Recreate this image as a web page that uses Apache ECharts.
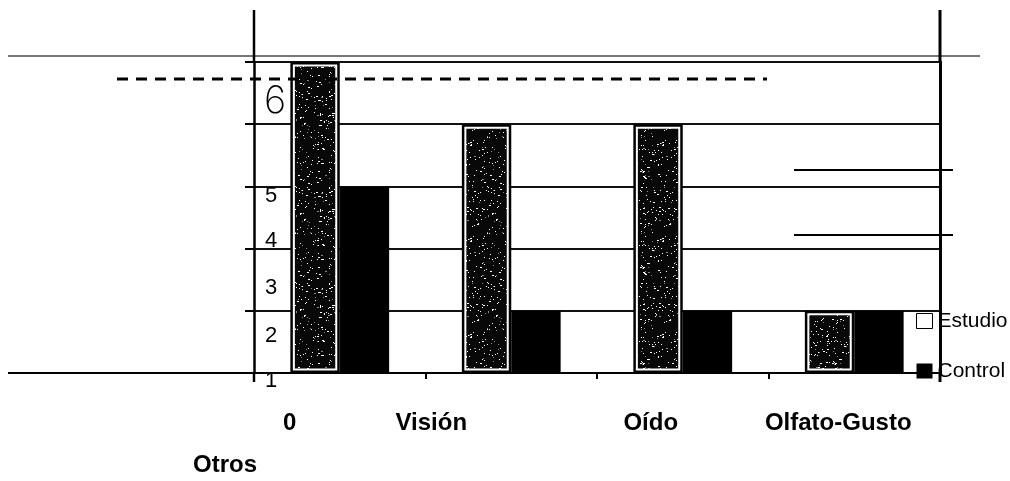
<!DOCTYPE html>
<html>
<head>
<meta charset="utf-8">
<title>Estudio / Control</title>
<script src="https://cdn.jsdelivr.net/npm/echarts@6.0.0/dist/echarts.min.js"></script>
<style>
  html, body { margin: 0; padding: 0; background: #fff; }
  #chart { width: 1010px; height: 481px; }
</style>
</head>
<body>
<div id="chart"></div>
<script>
// ---- data ----
const categories = ['0', 'Visión', 'Oído', 'Olfato-Gusto'];
const estudio = [6, 5, 5, 2];
const control = [4, 2, 2, 2];
const yTickLabels = ['1', '2', '3', '4', '5', '6'];
const axisName = 'Otros';

// ---- layout / style settings ----
const Y_MIN = 1, Y_TOP = 6;
// a hair above the top tick so the top label is treated as an ordinary one
const Y_MAX = Y_TOP + 0.0001;
const FONT = "'Liberation Sans', Arial, sans-serif";
// vertical shift (px) of each value label from its tick
const yLabelShift = [8, 25, 39, 55, 72, 40];
// horizontal shift (px, leftwards) of each category label from its band centre
const xLabelShift = [50, 80, 32, 16];
const BAR_FRAC = 0.288; // bar width as a fraction of the category band

// dark speckled fill for the "Estudio" bars (deterministic texture)
function speckleTile(size) {
  const c = document.createElement('canvas');
  c.width = c.height = size;
  const g = c.getContext('2d');
  g.fillStyle = '#080808';
  g.fillRect(0, 0, size, size);
  let s = 48271;
  const next = () => (s = (s * 16807) % 2147483647) / 2147483647;
  for (let k = 0; k < size * size * 0.045; k++) {
    const x = Math.floor(next() * size), y = Math.floor(next() * size);
    g.fillStyle = next() < 0.75 ? '#ffffff' : '#8a8a8a';
    g.fillRect(x, y, next() < 0.2 ? 2 : 1, 1);
  }
  return c;
}
const speckle = { image: speckleTile(96), repeat: 'repeat' };

function barRenderer(side) {
  return function (params, api) {
    const cat = api.value(0), val = api.value(1);
    const top = api.coord([cat, val]);
    const base = api.coord([cat, Y_MIN]);
    const w = api.size([1, 0])[0] * BAR_FRAC;
    const x = side === 'left' ? top[0] - w : top[0];
    const y = top[1], h = base[1] - top[1];
    if (side === 'right') {
      return { type: 'rect', shape: { x: x, y: y, width: w, height: h }, style: { fill: '#000' } };
    }
    return {
      type: 'group',
      children: [
        { type: 'rect', shape: { x: x, y: y, width: w, height: h }, style: { fill: '#000' } },
        { type: 'rect', shape: { x: x + 2.5, y: y + 2.5, width: w - 5, height: h - 5 }, style: { fill: '#fff' } },
        { type: 'rect', shape: { x: x + 4.5, y: y + 4.5, width: w - 9, height: h - 9 }, style: { fill: speckle } }
      ]
    };
  };
}

// rich styles for value labels
const yRich = {};
yTickLabels.forEach((t, i) => {
  const big = i === yTickLabels.length - 1;
  yRich['t' + i] = {
    fontFamily: big ? "Inter, 'DejaVu Sans', sans-serif" : FONT,
    fontWeight: big ? 200 : 'normal',
    fontSize: big ? 38 : 22,
    lineHeight: big ? 38 : 22,
    color: '#000',
    padding: [yLabelShift[i] * 2, 0, 0, big ? 0 : 1]
  };
});
// rich styles for category labels
const xRich = {};
categories.forEach((c, i) => {
  xRich['c' + i] = {
    fontFamily: FONT, fontWeight: 'bold', fontSize: 24, lineHeight: 24, color: '#000',
    padding: [0, xLabelShift[i] * 2, 0, 0]
  };
});

function yLabel(v) {
  const r = Math.round(v);
  if (Math.abs(v - r) > 1e-6) return '';
  const i = r - Y_MIN;
  return '{t' + i + '|' + yTickLabels[i] + '}';
}

const chart = echarts.init(document.getElementById('chart'), null, { renderer: 'canvas' });

const line = (x1, y1, x2, y2, lw, color, dash) => ({
  type: 'line', silent: true, z: 5,
  shape: { x1, y1, x2, y2 },
  style: { stroke: color || '#000', lineWidth: lw, lineDash: dash || null }
});

chart.setOption({
  backgroundColor: '#fff',
  animation: false,
  grid: { left: 254, right: 70, top: 62, bottom: 108, outerBoundsMode: 'none', containLabel: false },
  legend: {
    orient: 'vertical', left: 916, top: 310, padding: 0,
    itemWidth: 16, itemHeight: 15, itemGap: 28,
    textStyle: { fontFamily: FONT, fontSize: 21, lineHeight: 22, color: '#000' },
    selectedMode: false,
    data: [
      { name: 'Estudio', icon: 'rect', itemStyle: { color: '#fff', borderColor: '#000', borderWidth: 1 } },
      { name: 'Control', icon: 'rect', itemStyle: { color: '#000', borderWidth: 0 } }
    ]
  },
  xAxis: {
    type: 'category',
    data: categories,
    axisLine: { show: true, lineStyle: { color: '#000', width: 2 } },
    axisTick: { show: true, length: 6, lineStyle: { color: '#000', width: 2 } },
    axisLabel: {
      interval: 0, margin: 38, color: '#000',
      formatter: (v, i) => '{c' + i + '|' + v + '}',
      rich: xRich
    },
    splitLine: { show: false }
  },
  yAxis: [
    {
      type: 'value', min: Y_MIN, max: Y_MAX, interval: 1,
      axisLine: { show: true, lineStyle: { color: '#000', width: 2.5 } },
      axisTick: { show: true, inside: false, length: 9, lineStyle: { color: '#000', width: 2 } },
      axisLabel: {
        inside: true, margin: 10, color: '#000',
        showMinLabel: true, showMaxLabel: false, hideOverlap: false,
        formatter: yLabel,
        rich: yRich
      },
      splitLine: { show: true, lineStyle: { color: '#111', width: 2 } }
    },
    {
      type: 'value', min: Y_MIN, max: Y_MAX, interval: 1, position: 'right',
      axisLine: { show: true, lineStyle: { color: '#000', width: 3 } },
      axisTick: { show: false }, axisLabel: { show: false }, splitLine: { show: false }
    }
  ],
  series: [
    {
      name: 'Estudio', type: 'custom', yAxisIndex: 0,
      renderItem: barRenderer('left'),
      encode: { x: 0, y: 1 },
      itemStyle: { color: '#fff' },
      data: estudio.map((v, i) => [i, v]),
      z: 3
    },
    {
      name: 'Control', type: 'custom', yAxisIndex: 0,
      renderItem: barRenderer('right'),
      encode: { x: 0, y: 1 },
      itemStyle: { color: '#000' },
      data: control.map((v, i) => [i, v]),
      z: 3
    }
  ],
  graphic: [
    // frame rule above the plot
    line(8, 56, 980, 56, 2, '#777'),
    // dashed reference rule
    line(117, 79, 767, 79, 3, '#000', [11, 8]),
    // short rules at the right
    line(794, 170, 953, 170, 2),
    line(794, 235, 953, 235, 2),
    // baseline continued to the left
    line(8, 373, 254, 373, 2),
    // vertical rules continued past the plot area
    line(254, 10, 254, 62, 2.5),
    line(254, 373, 254, 382, 2.5),
    line(940, 10, 940, 62, 3),
    line(940, 373, 940, 382, 3),
    // axis caption under the category labels
    {
      type: 'text', left: 193, top: 453, silent: true,
      style: { text: axisName, font: "bold 24px 'Liberation Sans', Arial, sans-serif", fill: '#000' }
    }
  ]
});
</script>
</body>
</html>
